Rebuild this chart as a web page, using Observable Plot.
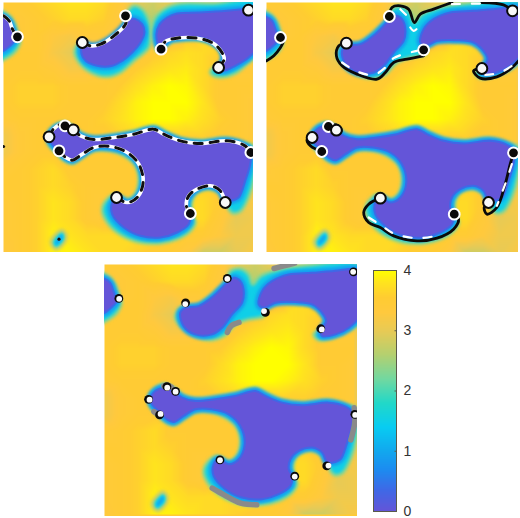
<!DOCTYPE html>
<html><head><meta charset="utf-8">
<script src="https://cdn.jsdelivr.net/npm/d3@7"></script>
<script src="https://cdn.jsdelivr.net/npm/@observablehq/plot@0.6"></script>
<style>
html,body{margin:0;padding:0;background:#fff}
#c{position:relative;width:520px;height:518px;overflow:hidden}
#c>svg,#c>div{position:absolute}
</style></head><body><div id="c"></div>
<script>
const colorDomain=[0,0.35,0.7,1,1.4,1.8,2.2,2.6,3,3.3,3.55,3.8,4];
const colorRange=["#6455d8","#3f68e6","#1c8cf0","#12a8ee","#08ccf2","#22d8c8","#72d8a0","#b4d070","#e8ca55","#ffc93e","#ffcc32","#ffe41e","#ffff00"];
const gridStep=50;
const bgRows=[
[3.5,3.5,3.6,3.7,3.8,3.8,3.7,3.4,3.0,2.8,3.0,3.0,3.0,3.0,3.1,3.2],
[3.3,3.4,3.5,3.6,3.7,3.7,3.6,3.3,2.8,2.6,3.0,3.0,3.0,3.0,3.1,3.2],
[3.3,3.4,3.5,3.3,3.2,3.4,3.4,3.3,3.0,2.8,3.2,3.5,3.7,3.6,3.3,3.2],
[3.5,3.5,3.5,3.2,3.0,3.1,3.3,3.3,3.3,3.5,3.65,3.75,3.7,3.6,3.3,3.2],
[3.5,3.5,3.5,3.4,3.2,3.2,3.3,3.5,3.55,3.7,3.8,3.85,3.7,3.5,3.4,3.4],
[3.5,3.6,3.6,3.6,3.5,3.5,3.5,3.55,3.75,3.9,4.0,3.95,3.7,3.5,3.5,3.5],
[3.5,3.6,3.6,3.6,3.5,3.5,3.5,3.7,3.9,4.0,4.0,4.0,3.8,3.5,3.5,3.4],
[3.4,3.5,3.5,3.5,3.5,3.5,3.6,3.75,3.9,4.0,4.0,3.9,3.75,3.6,3.5,3.4],
[3.1,3.4,3.5,3.5,3.5,3.5,3.5,3.6,3.7,3.7,3.6,3.6,3.6,3.5,3.5,3.4],
[3.1,3.4,3.5,3.5,3.5,3.5,3.5,3.5,3.5,3.5,3.5,3.5,3.5,3.5,3.5,3.4],
[3.4,3.5,3.6,3.7,3.5,3.5,3.5,3.5,3.5,3.5,3.5,3.5,3.5,3.5,3.4,3.3],
[3.5,3.5,3.6,3.7,3.6,3.5,3.5,3.5,3.5,3.5,3.5,3.6,3.6,3.5,3.3,3.2],
[3.4,3.5,3.6,3.8,3.7,3.5,3.4,3.5,3.5,3.5,3.6,3.7,3.7,3.5,3.2,3.2],
[3.4,3.5,3.6,3.8,3.7,3.5,3.4,3.5,3.6,3.6,3.6,3.7,3.7,3.4,3.0,3.1],
[3.4,3.5,3.6,3.9,3.8,3.7,3.7,3.7,3.7,3.7,3.6,3.5,3.5,3.3,3.1,3.1],
[3.3,3.5,3.6,3.9,3.9,3.8,3.7,3.7,3.6,3.5,3.5,3.3,2.8,2.8,3.0,3.2]];

// Outlines, in the coordinates of the first panel
const mainCore=[[145,410],[160,385],[190,375],[215,385],[240,405],[280,415],[340,410],[400,400],[460,385],[490,400],[540,420],[600,428],[680,420],[730,432],[752,450],[750,490],[735,540],[715,590],[692,600],[675,600],[660,570],[630,555],[590,565],[565,590],[560,620],[570,640],[565,670],[530,695],[480,710],[420,705],[370,680],[335,640],[335,605],[350,590],[380,605],[410,590],[428,545],[415,490],[380,455],[330,440],[280,440],[245,460],[215,478],[195,470],[175,450],[150,425]];
const mainHalo=[[140,405],[155,380],[190,364],[220,380],[245,398],[280,408],[340,402],[400,392],[460,376],[495,392],[540,412],[600,420],[680,412],[730,425],[765,440],[762,530],[745,590],[722,630],[700,638],[688,630],[680,615],[665,585],[630,565],[590,575],[575,600],[575,640],[585,665],[565,695],[530,715],[480,727],[420,725],[365,705],[320,665],[305,625],[320,595],[345,580],[380,595],[400,585],[415,545],[405,495],[370,465],[330,450],[280,450],[245,470],[215,488],[190,478],[170,460],[145,432]];
const leftCore=[[-20,48],[8,48],[25,60],[33,80],[40,100],[45,115],[35,128],[22,140],[8,150],[-20,155]];
const leftHalo=[[-20,30],[20,40],[40,65],[52,100],[58,120],[45,150],[20,170],[-20,185]];
const spotHalo=[[150,725],[165,700],[185,688],[197,705],[188,730],[165,745]];
const spotCore=[[162,725],[172,708],[184,700],[187,712],[178,726],[166,733]];

const firstCores=[
[[245,125],[270,135],[300,130],[340,105],[375,70],[385,55],[405,55],[425,70],[432,95],[420,125],[395,155],[365,180],[335,195],[290,195],[255,180],[243,160]],
[[468,100],[478,70],[500,50],[530,38],[600,35],[680,30],[730,25],[780,25],[780,130],[745,170],[705,195],[670,210],[655,205],[670,175],[665,150],[640,125],[600,110],[550,110],[510,115],[485,135],[475,135]]];
const firstHalos=[
[[235,130],[270,138],[300,133],[345,108],[372,70],[380,35],[400,15],[425,25],[445,60],[450,100],[445,140],[400,180],[360,215],[320,228],[270,215],[235,185],[222,150]],
[[462,130],[455,90],[465,50],[500,20],[540,8],[640,8],[780,2],[780,150],[740,190],[700,220],[650,228],[630,215],[645,195],[665,185],[660,150],[635,130],[600,118],[550,118],[510,125],[490,140],[470,150]]];

// Outlines of the upper shape, in the coordinates of the second panel
const secondCores=[
[[245,150],[260,135],[300,130],[345,100],[385,60],[405,45],[425,55],[435,85],[430,120],[400,155],[370,195],[340,215],[290,215],[255,190]],
[[490,85],[520,55],[570,35],[640,30],[700,25],[790,25],[790,150],[750,195],[710,215],[670,220],[665,205],[682,175],[670,150],[640,125],[590,118],[530,120],[495,135],[480,125]]];
const secondHalo=[[245,135],[300,125],[345,90],[385,50],[395,25],[425,18],[450,35],[462,65],[485,40],[540,20],[620,8],[790,10],[790,170],[750,205],[705,225],[660,232],[645,215],[665,200],[680,180],[670,150],[640,128],[590,120],[530,122],[500,135],[495,160],[450,170],[410,185],[375,220],[340,232],[290,222],[250,195],[230,165]];

// Annotations of panel one
const oneDashed=[
[[8,45],[25,60],[35,85],[48,108]],
[[245,125],[270,135],[300,130],[340,105],[375,70],[377,48]],
[[482,145],[495,122],[530,112],[590,112],[640,128],[665,155],[672,175],[655,200]],
[[145,408],[158,385],[190,368],[218,387],[240,405],[280,416],[340,410],[400,400],[460,385],[490,400],[540,420],[600,428],[680,420],[730,432],[752,453]],
[[175,450],[195,470],[215,478],[245,460],[280,440],[330,437],[380,455],[415,490],[428,545],[410,590],[380,605],[348,590]],
[[570,638],[558,615],[565,585],[590,565],[630,555],[660,570],[675,605]]];
const oneBlack=[[375,45],[50,108],[482,145],[193,375],[175,450],[752,455],[570,638]];
const oneWhite=[[745,28],[245,125],[655,200],[145,408],[218,387],[348,590],[675,605]];
const oneSpecks=[[175,715],[8,437]];

// Annotations of panel two
const twoSolid=[
[[18,180],[40,165],[60,140],[68,125]],
[[258,125],[235,135],[228,165],[245,195],[290,220],[350,235],[375,215],[400,185],[440,175],[490,165]],
[[387,47],[395,20],[420,15],[445,25],[462,65],[480,40],[520,25],[575,5]],
[[665,5],[730,12],[757,30]],
[[665,203],[640,210],[660,232],[710,228],[750,205],[775,180]],
[[155,410],[140,415],[150,435],[184,452]],
[[204,377],[228,372],[243,390],[228,400]],
[[360,592],[325,610],[310,635],[325,665],[360,680],[400,705],[470,720],[530,712],[580,685],[595,655],[582,640]],
[[760,456],[750,490],[735,550],[710,620],[680,640],[672,620],[685,605]]];
const twoDashes=[
[[245,185],[290,212],[340,222],[375,200],[400,172],[470,150]],
[[420,25],[445,50]],[[450,80],[460,90],[472,82]],
[[575,10],[665,8]],
[[675,222],[720,215],[770,185]],
[[755,490],[735,550],[710,615]],
[[325,650],[360,672],[400,698],[470,712],[530,705]]];
const twoBlack=[[387,47],[60,110],[490,147],[204,377],[184,452],[760,456],[582,640]];
const twoWhite=[[757,30],[258,127],[665,203],[155,410],[228,388],[360,592],[685,605]];

// Annotations of panel three
const threeGray=[
[[520,30],[550,22],[582,14]],
[[380,222],[392,202],[415,192]],
[[190,383],[200,380],[212,386]],
[[160,460],[175,470]],
[[760,448],[762,490],[750,545]],
[[335,690],[370,710],[420,735],[468,740]]];
const threeWhite=[[380,61],[56,121],[490,158],[200,388],[180,467],[763,470],[582,655],[757,40],[254,137],[663,213],[147,424],[225,400],[358,606],[683,622]];
const threeBlack=[[380,60],[55,120],[494,162],[199,385],[177,470],[762,468],[582,654],[758,40],[255,133],[660,211],[144,423],[225,399],[358,605],[678,623]];

const colorTicks=[0,1,2,3,4];

const X=d=>d[0],Y=d=>d[1];
const move=(p,dx,dy)=>p.map(d=>[d[0]+dx,d[1]+dy]);
const color={type:"linear",domain:colorDomain,range:colorRange,clamp:true};

function blob(pts,v,strokeV,sw,blur){
  return Plot.line(pts,{x:X,y:Y,curve:"catmull-rom-closed",fill:()=>v,stroke:()=>strokeV,strokeWidth:sw,imageFilter:`blur(${blur}px)`,clip:true});
}
function band(halo){return [blob(halo,1.5,2.3,3,1.8)];}
function core(pts){return [blob(pts,0.75,0.85,7,1.5),blob(pts,0,0.35,2,0.7)];}
function dots(p,fill,stroke,r,sw){return Plot.dot(p,{x:X,y:Y,r,fill,stroke,strokeWidth:sw});}
function paths(list,o){return list.map(p=>Plot.line(p,{x:X,y:Y,curve:"catmull-rom",clip:true,...o}));}

function panel(cfg){
  const [x0,y0]=cfg.origin;
  const table=bgRows.flatMap((row,j)=>row.map((v,i)=>({x:i*gridStep+x0,y:j*gridStep+y0,v})));
  const svg=Plot.plot({
    width:cfg.w,height:cfg.h,margin:0,
    x:{domain:cfg.xd,axis:null},y:{domain:[cfg.yd[1],cfg.yd[0]],axis:null},
    color,
    style:{background:"#fff",filter:"blur(0.35px)"},
    marks:[
      Plot.raster(table,{x:"x",y:"y",fill:"v",interpolate:"barycentric",pixelSize:1,x1:cfg.xd[0],x2:cfg.xd[1],y1:cfg.yd[1],y2:cfg.yd[0]}),
      ...cfg.marks]
  });
  svg.style.left=cfg.left+"px";svg.style.top=cfg.top+"px";
  document.getElementById("c").appendChild(svg);
}

const shared=(dx,dy)=>[
  ...band(move(mainHalo,dx,dy)),...band(move(leftHalo,dx,dy)),
  blob(move(spotHalo,dx,dy),2.2,2.8,3,1.6),blob(move(spotCore,dx,dy),1,1.4,2,1),
  ...core(move(mainCore,dx,dy)),...core(move(leftCore,dx,dy))];

panel({origin:[8,5],xd:[8,760],yd:[5,755],w:250,h:250,left:3,top:2,marks:[
  ...shared(0,0),
  ...firstHalos.flatMap(band),...firstCores.flatMap(core),
  ...paths(oneDashed,{stroke:"#fff",strokeWidth:3.6}),
  ...paths(oneDashed,{stroke:"#111",strokeWidth:3,strokeDasharray:"8,8"}),
  dots(oneSpecks,"#111","none",1.6,0),
  dots(oneBlack,"#0a0a0a","#fff",5.4,2),
  dots(oneWhite,"#f8f8f8","#0a0a0a",5.4,2)
]});
panel({origin:[18,5],xd:[18,775],yd:[5,755],w:252,h:250,left:266,top:2,marks:[
  ...shared(10,0),
  ...band(secondHalo),...secondCores.flatMap(core),
  ...paths(twoSolid,{stroke:"#0a0a0a",strokeWidth:2.8}),
  ...paths(twoDashes,{stroke:"#fff",strokeWidth:2.2,strokeDasharray:"8,12"}),
  dots(twoBlack,"#0a0a0a","#fff",5.4,2),
  dots(twoWhite,"#f8f8f8","#0a0a0a",5.4,2)
]});
panel({origin:[12,18],xd:[12,770],yd:[18,775],w:253,h:252,left:104,top:264,marks:[
  ...shared(4,13),
  ...band(move(secondHalo,-6,13)),...secondCores.map(p=>move(p,-6,13)).flatMap(core),
  ...paths(threeGray,{stroke:"#8a8a8a",strokeWidth:5.5,strokeLinecap:"round"}),
  dots(threeBlack,"#0a0a0a","none",4.4,0),
  dots(threeWhite,"#fafafa","none",2.9,0)
]});

const bar=Plot.plot({
  width:56,height:255,marginLeft:1,marginRight:32,marginTop:7,marginBottom:7,
  x:{domain:[0,1],axis:null},y:{domain:[0,4],axis:null},
  color,
  style:{background:"transparent"},
  marks:[
    Plot.raster({fill:(x,y)=>y,x1:0,x2:1,y1:0,y2:4,pixelSize:1}),
    Plot.frame({stroke:"#5a5a4a",strokeWidth:1}),
    Plot.axisY({anchor:"right",ticks:colorTicks,tickFormat:d=>String(d),tickSize:-2.5,tickPadding:9.5,fontSize:14,stroke:"#5a5a4a",color:"#333",fontFamily:"Liberation Sans",label:null})
  ]
});
bar.style.left="372px";bar.style.top="263px";
document.getElementById("c").appendChild(bar);
</script></body></html>
